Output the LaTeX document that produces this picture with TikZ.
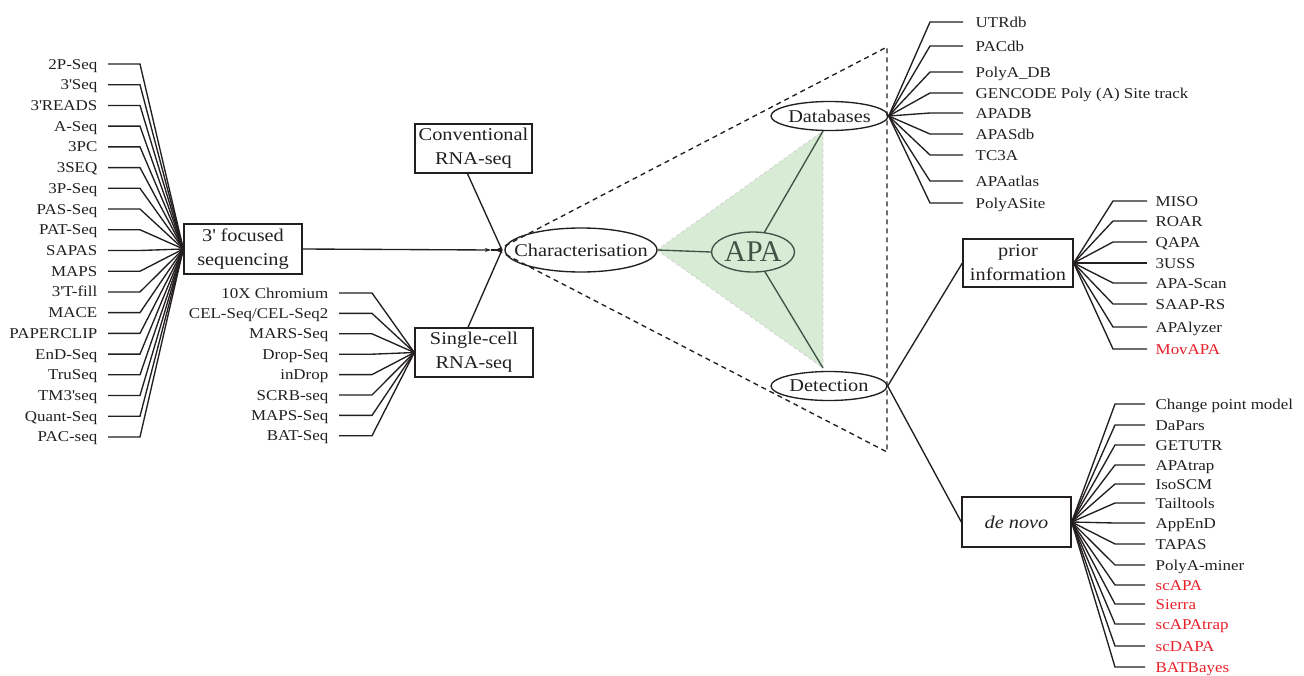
\documentclass[tikz,border=0pt]{standalone}
\usepackage{fontspec}
\setmainfont{Liberation Serif}[FakeStretch=1.13]
\newfontfamily\apafont{Liberation Serif}
\usetikzlibrary{shapes.geometric,arrows.meta}
\definecolor{ink}{HTML}{231F20}
\definecolor{redt}{HTML}{E8202A}
\definecolor{trifill}{HTML}{D8EBD5}
\definecolor{apac}{HTML}{3D5447}
\begin{document}
\begin{tikzpicture}[x=1pt,y=-1pt, line width=1.35pt, draw=ink,
 lab/.style={inner sep=0pt, text height=10pt, text depth=0pt, font=\fontsize{15}{18}\selectfont, text=ink},
 boxn/.style={draw=ink, rectangle, inner sep=1pt, align=center, font=\fontsize{18}{24}\selectfont, text=ink},
 ell/.style={draw=ink, ellipse, inner xsep=-25pt, inner ysep=-3pt, font=\fontsize{18}{22}\selectfont, text=ink},
 dashtri/.style={draw=ink, dash pattern=on 5pt off 4pt}]
\useasboundingbox (0,0) rectangle (1304,675);

% green triangle behind APA
\coordinate (tA) at (657,250);
\coordinate (tB) at (823,131);
\coordinate (tC) at (823,368);
\fill[trifill] (tA) -- (tB) -- (tC) -- cycle;
\draw[gray!35, line width=0.8pt, dashed] (tA) -- (tB) -- (tC) -- cycle;

% dashed triangle
\coordinate (dA) at (497,250);
\coordinate (dB) at (887,47);
\coordinate (dC) at (887,452);
\draw[dashtri] (dA) -- (dB) -- (dC) -- cycle;

% main nodes
\node[boxn, minimum width=118pt, minimum height=50pt] (foc) at (243,249) {3\textquotesingle{} focused\\sequencing};
\node[boxn, minimum width=117pt, minimum height=49pt] (conv) at (473.5,148.5) {Conventional\\RNA-seq};
\node[boxn, minimum width=118pt, minimum height=49pt] (sc) at (474,352.5) {Single-cell\\RNA-seq};
\node[ell, minimum width=152pt, minimum height=44pt] (char) at (581,250) {Characterisation};
\node[ell, minimum width=83pt, minimum height=40pt, draw=apac, text=apac, font=\apafont\fontsize{30}{30}\selectfont] (apa) at (753,252) {APA};
\node[ell, minimum width=117pt, minimum height=29pt] (db) at (829.5,116) {Databases};
\node[ell, minimum width=116pt, minimum height=29pt] (det) at (829,386) {Detection};
\node[boxn, minimum width=110pt, minimum height=48pt] (prior) at (1018,263) {prior\\information};
\node[boxn, minimum width=109pt, minimum height=50pt, font=\fontsize{18}{24}\selectfont\itshape] (dn) at (1016.5,522) {de novo};

% central connections
\coordinate (chub) at (502,250);
\coordinate (arrtip) at (491,250);
\draw[-{Stealth[length=6pt,width=4pt]}] (foc.east) -- (arrtip);
\draw (arrtip) -- (chub);
\draw ([xshift=-6pt]conv.south) -- (chub);
\draw ([xshift=-6pt]sc.north) -- (chub);
\draw[apac] (char.east) -- (apa.west);
\draw[apac] (apa) -- (tB);
\draw[apac] (apa) -- (tC);
\draw (det.east) -- (prior.west);
\draw (det.east) -- (dn.west);

% 3' focused list
\foreach \t [count=\i from 0] in {2P-Seq, 3\textquotesingle Seq, 3\textquotesingle READS, A-Seq, 3PC, 3SEQ, 3P-Seq, PAS-Seq, PAT-Seq, SAPAS, MAPS, 3\textquotesingle T-fill, MACE, PAPERCLIP, EnD-Seq, TruSeq, TM3\textquotesingle seq, Quant-Seq, PAC-seq}{
  \node[lab, anchor=east] (L\i) at (98,{64+20.72*\i}) {\t};
  \draw[shorten <=10pt] (L\i.east) -- ++(42,0) -- (foc.west);
}

% single-cell list
\foreach \t [count=\i from 0] in {10X Chromium, CEL-Seq/CEL-Seq2, MARS-Seq, Drop-Seq, inDrop, SCRB-seq, MAPS-Seq, BAT-Seq}{
  \node[lab, anchor=east] (S\i) at (329,{293+20.4*\i}) {\t};
  \draw[shorten <=10pt] (S\i.east) -- ++(43,0) -- (sc.west);
}

% databases list
\foreach \t/\y [count=\i] in {UTRdb/22, PACdb/46, PolyA\_DB/72, {GENCODE Poly (A) Site track}/93, APADB/113, APASdb/134, TC3A/155, APAatlas/181, PolyASite/203}{
  \node[lab, anchor=west] (D\i) at (975,\y) {\t};
  \draw (db.east) -- (930,\y) -- ([xshift=-12pt]D\i.west);
}

% prior information list
\foreach \t/\y/\c [count=\i] in {MISO/201/ink, ROAR/221/ink, QAPA/242/ink, 3USS/263/ink, APA-Scan/283/ink, SAAP-RS/304/ink, APAlyzer/327/ink, MovAPA/349/redt}{
  \node[lab, anchor=west, text=\c] (P\i) at (1155,\y) {\t};
  \draw (prior.east) -- (1113,\y) -- ([xshift=-8pt]P\i.west);
}

% de novo list
\foreach \t/\y/\c [count=\i] in {Change point model/404/ink, DaPars/425/ink, GETUTR/445/ink, APAtrap/465/ink, IsoSCM/484/ink, Tailtools/503/ink, AppEnD/523/ink, TAPAS/544/ink, PolyA-miner/565/ink, scAPA/585/redt, Sierra/604/redt, scAPAtrap/624/redt, scDAPA/646/redt, BATBayes/667/redt}{
  \node[lab, anchor=west, text=\c] (N\i) at (1155,\y) {\t};
  \draw (dn.east) -- (1115,\y) -- ([xshift=-10pt]N\i.west);
}
\end{tikzpicture}
\end{document}
